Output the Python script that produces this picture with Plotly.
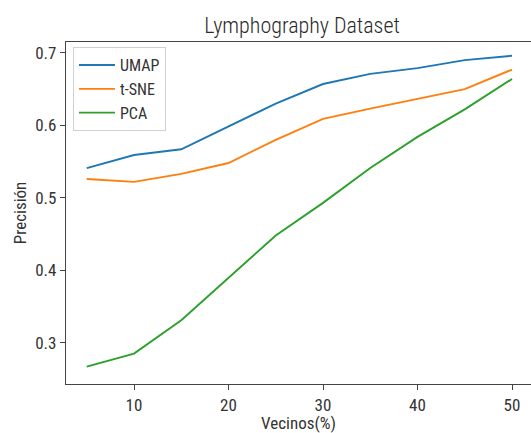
import plotly.graph_objects as go

vecinos = [5, 10, 15, 20, 25, 30, 35, 40, 45, 50]
umap = [0.541, 0.559, 0.567, 0.598, 0.630, 0.657, 0.671, 0.679, 0.690, 0.696]
tsne = [0.526, 0.522, 0.533, 0.548, 0.580, 0.609, 0.623, 0.636, 0.650, 0.677]
pca = [0.267, 0.285, 0.331, 0.390, 0.448, 0.493, 0.541, 0.584, 0.622, 0.664]

series = [("UMAP", umap, "#1f77b4"), ("t-SNE", tsne, "#ff7f0e"), ("PCA", pca, "#2ca02c")]

fig = go.Figure()
for name, vals, col in series:
    fig.add_trace(go.Scatter(x=vecinos, y=vals, mode="lines", name=name,
                             line=dict(color=col, width=1.9)))

font = "Roboto Condensed, DejaVu Sans, sans-serif"
fig.update_layout(
    width=531, height=433,
    margin=dict(l=66, r=0, t=42, b=49),
    paper_bgcolor="white", plot_bgcolor="white",
    font=dict(family=font, size=17, color="#333"),
    title=dict(text="Lymphography Dataset", x=0.569, xanchor="center", y=0.942, yanchor="middle",
               font=dict(size=22, color="#2a2a2a", weight=300)),
    showlegend=True,
    legend=dict(x=0.015, y=0.985, xanchor="left", yanchor="top",
                bordercolor="#d0d0d0", borderwidth=1, bgcolor="rgba(255,255,255,0.8)",
                font=dict(size=16), itemwidth=36),
    xaxis=dict(range=[2.804, 52.01], tickvals=[10, 20, 30, 40, 50], showgrid=False, zeroline=False,
               showline=True, linecolor="#444", linewidth=1.2, mirror=True,
               ticks="outside", ticklen=5, tickcolor="#444",
               title=dict(text="Vecinos(%)", font=dict(size=17), standoff=2)),
    yaxis=dict(range=[0.243, 0.715], tickvals=[0.3, 0.4, 0.5, 0.6, 0.7], tickformat=".1f",
               showgrid=False, zeroline=False,
               showline=True, linecolor="#444", linewidth=1.2,
               ticks="outside", ticklen=5, tickcolor="#444",
               title=dict(text="Precisión", font=dict(size=17), standoff=4)),
)

fig.write_html("out.html")
